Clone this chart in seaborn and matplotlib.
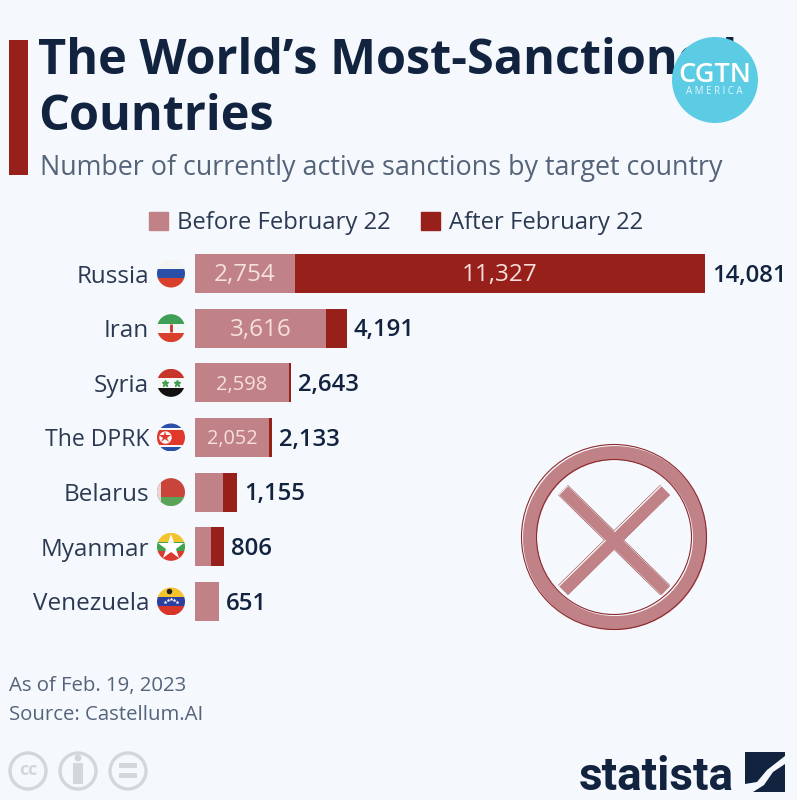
import matplotlib
matplotlib.use("Agg")
import matplotlib.pyplot as plt
from matplotlib.patches import Circle, Patch, Polygon, Rectangle
import seaborn as sns
import pandas as pd

countries = ["Russia", "Iran", "Syria", "The DPRK", "Belarus", "Myanmar", "Venezuela"]
before = [2754, 3616, 2598, 2052, 773, 450, 651]
totals = [14081, 4191, 2643, 2133, 1155, 806, 651]
before_labels = ["2,754", "3,616", "2,598", "2,052", "", "", ""]
total_labels = ["14,081", "4,191", "2,643", "2,133", "1,155", "806", "651"]
after_russia = 11327

BG = "#f5f8fc"
LIGHT = "#c08287"
DARK = "#97201b"
NAVY = "#12233f"
GREY = "#55647a"
OUTLINE = "#8c2a2c"

sns.set_theme(style="white", font="Open Sans")
plt.rcParams["font.family"] = ["Open Sans", "DejaVu Sans"]

df = pd.DataFrame({"country": countries, "before": before, "total": totals})

fig = plt.figure(figsize=(7.97, 8), dpi=100, facecolor=BG)

# pixel canvas for everything around the chart
bg = fig.add_axes([0, 0, 1, 1], zorder=0)
bg.set_xlim(0, 797)
bg.set_ylim(800, 0)
bg.axis("off")

# bars
ax = fig.add_axes([195 / 797, 1 - 628.8 / 800, 510 / 797, 382.6 / 800], zorder=1)
ax.patch.set_alpha(0)
sns.barplot(data=df, x="total", y="country", color=DARK, saturation=1, width=0.71, linewidth=0, ax=ax)
sns.barplot(data=df, x="before", y="country", color=LIGHT, saturation=1, width=0.71, linewidth=0, ax=ax)
ax.set_xlim(0, 14081)
ax.set_xlabel("")
ax.set_ylabel("")
ax.set_xticks([])
sns.despine(ax=ax, left=True, bottom=True)
ax.tick_params(axis="y", length=0, pad=33, labelsize=17.5, labelcolor="#2b3a52")
ax.get_yticklabels()[3].set_fontsize(16.6)

outer = ax.bar_label(ax.containers[0], labels=total_labels, padding=5, fontsize=17.2,
                     fontweight="semibold", color=NAVY, clip_on=False)
for t in outer:
    t.xyann = (t.xyann[0], t.xyann[1] - 1.6)
inner = ax.bar_label(ax.containers[1], labels=before_labels, label_type="center",
                     fontsize=17.5, color="#f6dfdc")
for t, s in zip(inner, [17.5, 17.5, 14.5, 14.3, 14, 14, 14]):
    t.set_fontsize(s)
    t.xyann = (t.xyann[0], t.xyann[1] - 1.4)
ax.text(before[0] + after_russia / 2, 0.035, "11,327", ha="center", va="center",
        fontsize=17.5, color="#f6dfdc")

# title block
bg.add_patch(Rectangle((9, 40), 19, 135, color=DARK, lw=0))
bg.text(38.5, 74, "The World\u2019s Most-Sanctioned", fontsize=35, fontweight="bold",
        color=NAVY, va="baseline")
bg.text(38.5, 130, "Countries", fontsize=35, fontweight="bold", color=NAVY, va="baseline")
bg.text(40, 175, "Number of currently active sanctions by target country", fontsize=19.4,
        color=GREY, va="baseline")

# CGTN bug sits on top of the title
bg.add_patch(Circle((715, 80), 43, color="#5ccbe4", lw=0, zorder=5))
bg.text(715, 75, "CGTN", fontsize=19.5, fontweight="semibold", color="white", ha="center",
        va="center", zorder=6)
bg.text(714, 91, "A M E R I C A", fontsize=7, color="#e6f7fb", ha="center", va="center", zorder=6)

# legend
fig.legend(handles=[Patch(color=LIGHT, label="Before February 22"),
                    Patch(color=DARK, label="After February 22")],
           ncols=2, frameon=False, loc="center", bbox_to_anchor=(396 / 797, 1 - 223 / 800),
           fontsize=17.2, labelcolor="#2b3a52", handlelength=0.8, handleheight=0.8,
           handletextpad=0.38, columnspacing=1.25, borderpad=0)


def flag(y, stripes, fracs=None):
    cx, r = 171, 14
    clip = Circle((cx, y), r, transform=bg.transData)
    fracs = fracs or [1 / len(stripes)] * len(stripes)
    top = y - r
    for col, f in zip(stripes, fracs):
        h = 2 * r * f
        p = bg.add_patch(Rectangle((cx - r, top), 2 * r, h, color=col, lw=0))
        p.set_clip_path(clip)
        top += h


ys = [800 - ax.transData.transform((0, i))[1] for i in range(len(countries))]

flag(ys[0], ["#f4f4f4", "#2a4fa8", "#d8402c"])
flag(ys[1], ["#3f9f55", "#f6f6f6", "#d8402c"])
bg.plot(171, ys[1], marker="|", ms=6, mew=2, color="#c8352a")
flag(ys[2], ["#c8352a", "#f6f6f6", "#111111"])
bg.plot([165, 177], [ys[2]] * 2, ls="", marker="*", ms=5, color="#3f9f55")
flag(ys[3], ["#2a4fa8", "#f6f6f6", "#e0392b", "#f6f6f6", "#2a4fa8"], [0.17, 0.05, 0.56, 0.05, 0.17])
bg.plot(165, ys[3], marker="o", ms=9, color="#f6f6f6", mew=0)
bg.plot(165, ys[3], marker="*", ms=9, color="#e0392b", mew=0)
flag(ys[4], ["#c9453c", "#5aa457"], [0.66, 0.34])
strip = bg.add_patch(Rectangle((157, ys[4] - 14), 4, 28, color="#e9d6d2", lw=0))
strip.set_clip_path(Circle((171, ys[4]), 14, transform=bg.transData))
flag(ys[5], ["#f4c430", "#3fa34d", "#dc3a2e"])
bg.plot(171, ys[5], marker="*", ms=19, color="white", mew=0)
flag(ys[6], ["#f4c430", "#2a3f9e", "#d8352a"])
bg.plot(169, ys[6] - 10, marker="o", ms=4, color="#222222", mew=0)
bg.plot([165, 168, 171, 174, 177], [ys[6] + 1, ys[6] - 1, ys[6] - 2, ys[6] - 1, ys[6] + 1],
        ls="", marker="*", ms=3, color="white", mew=0)

# sanction symbol: thin outline, gap, then the fill a little off register
bg.add_patch(Circle((615, 538), 85, fill=False, ec=LIGHT, lw=10))
bg.add_patch(Circle((614, 537), 92.5, fill=False, ec=OUTLINE, lw=0.8))
bg.add_patch(Circle((614, 537), 77.5, fill=False, ec=OUTLINE, lw=0.8))
arms = [((563, 665), (490, 590)), ((665, 563), (490, 590))]
for xs, yy in arms:
    bg.plot(xs, yy, color=OUTLINE, lw=10, solid_capstyle="butt")
for xs, yy in arms:
    bg.plot(xs, yy, color="#fbfcfd", lw=9.3, solid_capstyle="butt")
for xs, yy in arms:
    bg.plot([x + 0.7 for x in xs], [v + 0.7 for v in yy], color=LIGHT, lw=8.7, solid_capstyle="butt")

# notes
bg.text(9, 691, "As of Feb. 19, 2023", fontsize=14.7, color=GREY, va="baseline")
bg.text(9, 720, "Source: Castellum.AI", fontsize=14.7, color=GREY, va="baseline")

# licence icons
for cx in (28, 78, 128):
    bg.add_patch(Circle((cx, 771), 18, fill=False, ec="#d3d7dc", lw=2.4))
bg.text(28, 770, "cc", fontsize=13, fontweight="bold", color="#d3d7dc", ha="center", va="center")
bg.add_patch(Circle((78, 758), 3.5, color="#d3d7dc", lw=0))
bg.add_patch(Rectangle((73, 763), 10, 21, color="#d3d7dc", lw=0))
bg.add_patch(Rectangle((119, 763), 18, 5, color="#d3d7dc", lw=0))
bg.add_patch(Rectangle((119, 773), 18, 5, color="#d3d7dc", lw=0))

# statista logo
bg.text(579, 790, "statista", fontsize=33, fontweight="bold", color=NAVY, va="baseline",
        family=["Roboto", "Open Sans"])
bg.add_patch(Rectangle((745, 752), 40, 40, color=NAVY, lw=0))
bg.add_patch(Polygon([(745, 792), (745, 784), (757, 782), (767, 770), (785, 756), (785, 764),
                      (773, 772), (764, 785), (753, 792)], color=BG, lw=0))

fig.savefig("out.png", dpi=100, facecolor=BG)
